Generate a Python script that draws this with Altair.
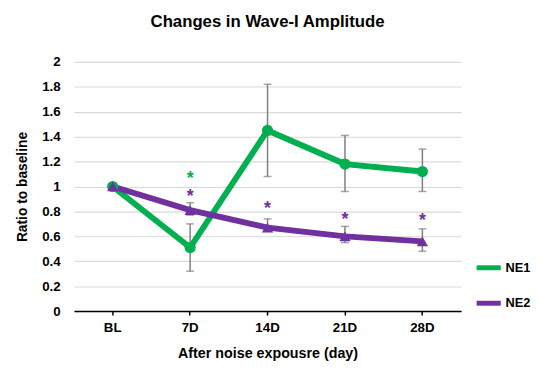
import altair as alt
import pandas as pd

days = ["BL", "7D", "14D", "21D", "28D"]
ne1_mean = [1.0, 0.51, 1.45, 1.18, 1.12]
ne1_low = [1.0, 0.32, 1.08, 0.96, 0.96]
ne1_high = [1.0, 0.70, 1.82, 1.41, 1.30]
ne2_mean = [1.0, 0.81, 0.67, 0.60, 0.56]
ne2_low = [1.0, 0.77, 0.64, 0.55, 0.48]
ne2_high = [1.0, 0.87, 0.74, 0.68, 0.66]
star_day = ["7D", "7D", "14D", "21D", "28D"]
star_group = ["NE1", "NE2", "NE2", "NE2", "NE2"]
star_y = [1.11, 0.96, 0.87, 0.78, 0.77]
y_ticks = [0, 0.2, 0.4, 0.6, 0.8, 1, 1.2, 1.4, 1.6, 1.8, 2]

rows = []
for i, d in enumerate(days):
    rows.append(dict(day=d, group="NE1", mean=ne1_mean[i], low=ne1_low[i], high=ne1_high[i]))
for i, d in enumerate(days):
    rows.append(dict(day=d, group="NE2", mean=ne2_mean[i], low=ne2_low[i], high=ne2_high[i]))
df = pd.DataFrame(rows)
stars = pd.DataFrame(dict(day=star_day, group=star_group, y=star_y))

FONT = "Liberation Sans"
colors = alt.Scale(domain=["NE1", "NE2"], range=["#00B050", "#7030A0"])

x = alt.X("day:N", sort=days, scale=alt.Scale(paddingInner=0, paddingOuter=0),
          axis=alt.Axis(title="After noise expousre (day)", labelAngle=0,
                        labelFont=FONT, labelFontSize=13.5, labelFontWeight="bold",
                        labelColor="black", titleFont=FONT, titleFontSize=14.5,
                        titleFontWeight="bold", titleColor="black", titlePadding=13,
                        domainColor="black", domainWidth=1.5, tickColor="black",
                        tickSize=4, tickWidth=1.5, labelPadding=6, grid=False))
yscale = alt.Scale(domain=[0, 2], nice=False)
yaxis = alt.Axis(title="Ratio to baseline", values=y_ticks,
                 format="~g", labelOverlap=False,
                 labelFont=FONT, labelFontSize=13.5, labelFontWeight="bold",
                 labelColor="black", titleFont=FONT, titleFontSize=14,
                 titleFontWeight="bold", titleColor="black", titlePadding=12,
                 domain=False, ticks=False, labelPadding=14,
                 gridColor="#d9d9d9", gridWidth=1.2)
y = alt.Y("mean:Q", scale=yscale, axis=yaxis)

base = alt.Chart(df)
err = base.mark_rule(color="#7f7f7f", strokeWidth=1.5).encode(
    x=x, y=alt.Y("low:Q", scale=yscale, axis=yaxis), y2="high:Q", detail="group:N")
caps_lo = base.mark_tick(color="#7f7f7f", thickness=1.5, size=8, orient="horizontal").encode(
    x=x, y=alt.Y("low:Q", scale=yscale, axis=yaxis), detail="group:N")
caps_hi = base.mark_tick(color="#7f7f7f", thickness=1.5, size=8, orient="horizontal").encode(
    x=x, y=alt.Y("high:Q", scale=yscale, axis=yaxis), detail="group:N")

color = alt.Color("group:N", scale=colors,
                  legend=alt.Legend(title=None, orient="none", legendX=406, legendY=194,
                                    symbolType="stroke", symbolStrokeWidth=5, symbolSize=600,
                                    labelFont=FONT, labelFontSize=13, labelFontWeight="bold",
                                    labelColor="black", rowPadding=11, labelOffset=2))
lines = base.mark_line(strokeWidth=6).encode(x=x, y=y, color=color)
pts1 = alt.Chart(df[df.group == "NE1"]).mark_point(shape="circle", filled=True, size=130, opacity=1).encode(
    x=x, y=y, color=alt.Color("group:N", scale=colors, legend=None))
pts2 = alt.Chart(df[df.group == "NE2"]).mark_point(shape="triangle-up", filled=True, size=130, opacity=1).encode(
    x=x, y=y, color=alt.Color("group:N", scale=colors, legend=None))
star = alt.Chart(stars).mark_text(text="*", font=FONT, fontSize=18, fontWeight="bold", dy=6).encode(
    x=alt.X("day:N", sort=days), y=alt.Y("y:Q", scale=yscale, axis=yaxis),
    color=alt.Color("group:N", scale=colors, legend=None))

chart = alt.layer(lines, err, caps_lo, caps_hi, pts1, pts2, star).properties(
    width=393, height=253,
    title=alt.TitleParams("Changes in Wave-I Amplitude", font=FONT, fontSize=17,
                          fontWeight="bold", color="black", anchor="middle", offset=24),
    autosize=alt.AutoSizeParams(type="none"),
    padding={"left": 67, "top": 52, "right": 73, "bottom": 52},
).configure_view(stroke=None)

chart.save("out.html", embed_options={"renderer": "svg", "actions": False})
